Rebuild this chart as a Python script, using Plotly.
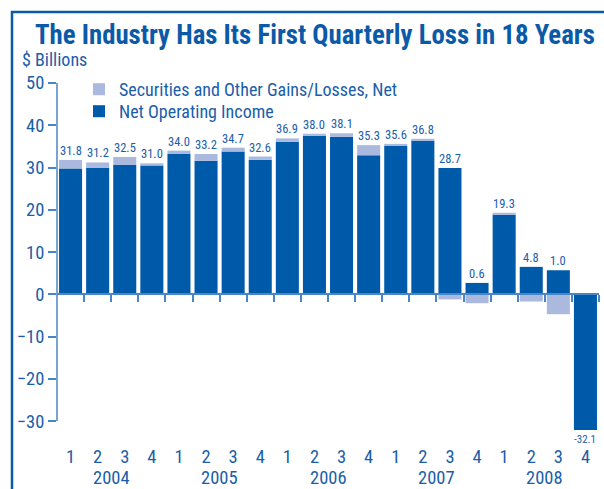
import plotly.graph_objects as go

# ---- data ----
quarters = ["1", "2", "3", "4"] * 5
years = ["2004"] * 4 + ["2005"] * 4 + ["2006"] * 4 + ["2007"] * 4 + ["2008"] * 4
net_operating_income = [29.8, 29.9, 30.6, 30.5, 33.2, 31.6, 33.8, 31.8, 36.1, 37.5,
                        37.3, 32.9, 35.1, 36.4, 29.9, 2.7, 18.8, 6.5, 5.7, -32.1]
securities_gains = [2.0, 1.3, 1.9, 0.5, 0.8, 1.6, 0.9, 0.8, 0.8, 0.5,
                    0.8, 2.4, 0.5, 0.4, -1.2, -2.1, 0.5, -1.7, -4.7, 0.0]
net_income_labels = ["31.8", "31.2", "32.5", "31.0", "34.0", "33.2", "34.7", "32.6", "36.9", "38.0",
                     "38.1", "35.3", "35.6", "36.8", "28.7", "0.6", "19.3", "4.8", "1.0", "-32.1"]
y_ticks = [-30, -20, -10, 0, 10, 20, 30, 40, 50]

# ---- style ----
DARK = "#005aaa"
LIGHT = "#abb9de"
TEXT = "#1a5ea9"
AXIS = "#4a86c5"
FRAME = "#0b5aa8"
NARROW = "Roboto Condensed, Liberation Sans, Arial, sans-serif"

W, H = 604, 489
ML, MR, MT, MB = 57, 5, 83, 59
PW, PH = W - ML - MR, H - MT - MB
YMIN, YMAX = -32.1, 50

def px_x(px):
    return (px - ML) / PW

def px_y(py):
    return (H - MB - py) / PH

n = len(quarters)
xs = list(range(n))

fig = go.Figure()
fig.add_trace(go.Bar(x=xs, y=net_operating_income, name="Net Operating Income",
                     marker=dict(color=DARK, line=dict(width=0)), legend="legend2"))
fig.add_trace(go.Bar(x=xs, y=securities_gains, name="Securities and Other Gains/Losses, Net",
                     marker=dict(color=LIGHT, line=dict(width=0)), legend="legend"))
# invisible helper trace for the zero-line axis
fig.add_trace(go.Scatter(x=xs, y=[0] * n, xaxis="x2", mode="markers",
                         marker=dict(opacity=0), showlegend=False, hoverinfo="skip"))

annotations = []
for i in xs:
    noi = net_operating_income[i]
    g = securities_gains[i]
    top = max(noi, 0) + max(g, 0)
    if noi >= 0:
        annotations.append(dict(x=i, y=top, xref="x", yref="y", text=net_income_labels[i],
                                showarrow=False, yanchor="bottom", yshift=0,
                                font=dict(family=NARROW, size=12.5, color=TEXT)))
    else:
        annotations.append(dict(x=i, y=YMIN, xref="x", yref="y", text=net_income_labels[i],
                                showarrow=False, yanchor="top", yshift=-1,
                                font=dict(family=NARROW, size=11, color=TEXT)))

# year labels centered under each group of quarters
for yr in sorted(set(years)):
    idx = [i for i in xs if years[i] == yr]
    annotations.append(dict(x=sum(idx) / len(idx), y=0, xref="x", yref="paper", text=yr,
                            showarrow=False, yanchor="middle", yshift=-48,
                            font=dict(family=NARROW, size=18.5, color=TEXT)))

annotations.append(dict(x=px_x(315), y=px_y(35), xref="paper", yref="paper", xanchor="center",
                        yanchor="middle", showarrow=False,
                        text="<b>The Industry Has Its First Quarterly Loss in 18 Years</b>",
                        font=dict(family=NARROW, size=26.8, color=FRAME)))
annotations.append(dict(x=px_x(20), y=px_y(60), xref="paper", yref="paper", xanchor="left",
                        yanchor="middle", showarrow=False, text="$ Billions",
                        font=dict(family=NARROW, size=18, color=TEXT)))

shapes = [
    dict(type="rect", xref="paper", yref="paper", x0=px_x(12), x1=px_x(608), y0=px_y(495), y1=px_y(12),
         line=dict(color=FRAME, width=2.5), fillcolor="rgba(0,0,0,0)", layer="below"),
    dict(type="line", xref="paper", yref="y", x0=0, x1=0, y0=-30, y1=50,
         line=dict(color=AXIS, width=1.5)),
]

legend_common = dict(xanchor="left", yanchor="top", bgcolor="rgba(0,0,0,0)",
                     font=dict(family=NARROW, size=18, color=TEXT), itemclick=False)

fig.update_layout(
    width=W, height=H,
    margin=dict(l=ML, r=MR, t=MT, b=MB, pad=0),
    paper_bgcolor="white", plot_bgcolor="white",
    barmode="relative", bargap=0.15,
    showlegend=True,
    legend=dict(x=px_x(79), y=px_y(71), **legend_common),
    legend2=dict(x=px_x(79), y=px_y(93), **legend_common),
    xaxis=dict(range=[-0.5, n - 0.5], tickvals=xs, ticktext=quarters, showline=False,
               showgrid=False, zeroline=False, ticks="", ticklabelstandoff=13,
               tickfont=dict(family=NARROW, size=18.5, color=TEXT)),
    xaxis2=dict(range=[-0.5, n - 0.5], overlaying="x", anchor="free",
                position=(0 - YMIN) / (YMAX - YMIN), side="bottom",
                showline=True, linecolor=AXIS, linewidth=2, showgrid=False, zeroline=False,
                ticks="outside", ticklen=7, tickwidth=1.5, tickcolor=AXIS,
                tickvals=[i + 0.5 for i in xs], showticklabels=False),
    yaxis=dict(range=[YMIN, YMAX], tickvals=y_ticks, showline=False, showgrid=False,
               zeroline=False, ticks="outside", ticklen=8, tickwidth=1.5, tickcolor=AXIS,
               tickfont=dict(family=NARROW, size=18.5, color=TEXT)),
    annotations=annotations,
    shapes=shapes,
)

fig.write_html("out.html", config={"displayModeBar": False},
               post_script="document.body.style.margin='0px';")
